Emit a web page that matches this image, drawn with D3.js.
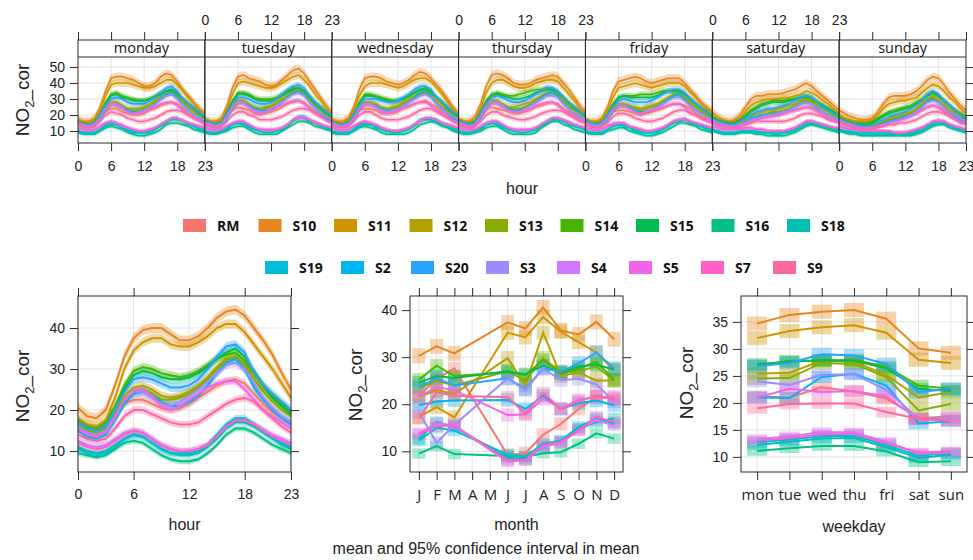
<!DOCTYPE html>
<html>
<head>
<meta charset="utf-8">
<script src="https://cdn.jsdelivr.net/npm/d3@7"></script>
<style>
  body { margin: 0; background: #fff; }
  svg { display: block; }
</style>
</head>
<body>
<svg id="chart" width="973" height="560"></svg>
<script>
// ---- categories -------------------------------------------------------
const sites = ["RM","S10","S11","S12","S13","S14","S15","S16","S18","S19","S2","S20","S3","S4","S5","S7","S9"];
const dayNames = ["monday","tuesday","wednesday","thursday","friday","saturday","sunday"];
const hourTicks = [0, 6, 12, 18, 23];
const monthLabels = ["J","F","M","A","M","J","J","A","S","O","N","D"];
const weekdayLabels = ["mon","tue","wed","thu","fri","sat","sun"];
const topYTicks = [10, 20, 30, 40, 50];
const hourYTicks = [10, 20, 30, 40];
const monthYTicks = [10, 20, 30, 40];
const weekYTicks = [10, 15, 20, 25, 30, 35];

// ---- hour of day by weekday (one array per site, rows mon..sun) -------
const dayHourRM = [
  [15,14,13,14,18,22,24,24,22,21,20,20,21,23,24,26,27,28,27,24,21,19,18,16],
  [15,14,13,14,18,23,25,24,23,21,20,21,22,23,25,27,28,29,28,25,22,20,18,16],
  [15,14,13,14,18,23,24,24,23,21,21,21,22,24,25,27,28,29,27,25,22,20,18,16],
  [15,14,13,14,18,23,25,24,23,22,21,21,22,23,25,26,27,28,27,24,22,20,18,17],
  [15,14,13,14,18,22,23,23,22,21,20,21,22,23,24,26,27,27,26,24,21,19,18,17],
  [17,15,14,14,14,15,16,17,18,19,19,20,20,21,22,23,24,25,25,23,21,19,18,17],
  [17,16,15,14,13,13,13,14,15,16,17,18,19,20,21,23,25,26,25,23,21,19,17,16]];
const dayHourS10 = [
  [17,16,16,18,25,35,43,44,44,43,42,40,38,38,40,44,46,45,41,36,32,28,24,21],
  [17,16,16,18,26,37,44,45,43,42,41,39,38,39,42,45,48,49,46,41,36,31,26,22],
  [17,16,16,18,25,36,43,44,44,43,41,40,39,40,42,45,47,46,43,39,35,30,25,21],
  [17,16,16,19,27,38,45,46,45,43,40,39,39,40,42,43,44,45,44,40,36,31,26,22],
  [17,16,16,18,25,35,41,42,43,44,43,41,40,41,42,43,43,43,40,36,32,28,25,22],
  [22,19,17,16,17,20,25,30,32,32,33,33,33,34,35,36,38,40,38,35,32,29,26,23],
  [23,21,19,18,17,17,18,22,27,31,32,32,32,33,35,38,42,44,43,39,34,30,26,23]];
const dayHourS11 = [
  [17,15,15,17,23,32,39,40,40,40,39,38,37,37,38,40,42,42,39,35,31,27,23,20],
  [17,15,15,17,24,33,40,41,40,39,38,37,37,38,40,42,44,45,42,38,33,29,24,20],
  [16,15,15,17,23,32,38,40,40,40,39,38,37,38,40,42,43,43,41,37,33,28,24,20],
  [16,15,15,17,24,34,40,42,42,40,38,37,37,38,40,41,42,42,41,37,33,29,24,21],
  [16,15,15,17,23,31,37,38,39,40,39,38,37,38,39,40,40,40,38,34,31,27,24,21],
  [19,17,16,15,16,18,22,26,28,29,30,30,30,31,31,32,33,35,34,32,29,27,24,21],
  [20,18,17,16,16,16,17,20,24,27,28,29,29,30,31,34,37,39,38,35,31,28,24,21]];
const dayHourS12 = [
  [16,14,14,15,19,25,28,28,26,24,24,24,25,27,29,31,33,34,32,29,26,23,21,18],
  [16,15,14,15,20,26,29,29,27,25,24,25,26,28,30,32,35,36,34,30,27,24,21,19],
  [16,14,14,15,19,25,28,28,27,25,24,25,26,28,30,32,34,35,33,30,27,24,21,19],
  [16,15,14,15,20,26,29,29,27,25,25,26,27,28,30,32,34,34,33,29,26,24,21,19],
  [16,15,14,15,19,24,27,27,26,25,24,25,26,27,29,31,33,33,31,28,26,23,21,19],
  [18,16,15,14,15,16,17,19,21,22,23,23,24,25,26,27,29,30,29,27,25,23,21,19],
  [18,16,15,14,13,13,14,15,16,18,19,20,21,22,24,27,30,32,31,28,25,22,20,18]];
const dayHourS13 = [
  [16,14,13,15,18,24,27,27,25,23,23,23,24,26,28,31,33,34,31,28,25,22,20,18],
  [16,14,14,15,19,25,28,28,26,24,23,24,25,27,29,32,34,35,33,29,26,23,20,18],
  [16,14,13,15,19,24,27,27,26,24,23,24,25,27,29,31,33,34,32,28,25,23,20,18],
  [16,14,14,15,19,25,28,28,26,24,24,24,25,27,29,31,33,34,32,28,25,23,21,19],
  [16,14,13,15,18,23,26,26,25,24,23,24,25,26,28,30,32,33,30,27,25,22,20,18],
  [17,15,14,14,14,15,16,18,19,20,21,22,22,23,24,26,28,29,28,26,24,22,20,18],
  [17,15,14,13,12,12,13,14,15,17,18,19,20,21,23,26,29,31,29,26,23,21,19,17]];
const dayHourS14 = [
  [16,15,14,16,21,28,33,34,32,31,30,29,29,30,32,34,35,35,33,30,27,24,21,19],
  [17,15,15,16,22,29,34,34,33,31,30,30,30,31,33,35,37,37,35,32,28,25,22,19],
  [16,15,14,16,21,28,33,33,32,31,30,29,29,30,32,34,36,36,34,31,28,25,22,19],
  [17,15,15,16,22,29,33,34,33,32,32,33,34,35,36,36,37,36,34,31,28,25,22,20],
  [17,15,15,16,21,27,31,32,32,32,33,33,33,34,35,35,35,35,33,30,27,24,22,20],
  [19,17,16,15,15,17,20,23,25,27,28,29,29,29,30,30,31,31,30,28,26,24,22,20],
  [19,17,16,15,15,15,16,18,20,22,23,24,25,26,28,30,33,34,32,29,26,23,21,19]];
const dayHourS15 = [
  [16,14,14,15,20,27,32,33,31,30,29,29,29,30,31,33,35,36,34,30,27,24,21,18],
  [16,15,14,15,21,28,33,33,32,30,29,29,29,30,32,34,36,37,35,31,27,24,21,19],
  [16,14,14,15,20,27,32,32,31,30,29,28,29,30,32,34,36,37,35,31,28,24,21,19],
  [16,15,14,16,21,28,32,33,32,31,30,30,31,32,34,35,36,36,34,31,27,24,22,19],
  [16,15,14,15,20,26,31,32,31,31,31,31,31,32,34,35,35,35,33,30,27,24,22,19],
  [18,16,15,15,15,17,19,22,24,26,27,28,28,28,29,30,31,32,31,28,26,24,22,19],
  [18,16,15,14,14,14,15,17,19,21,22,23,24,25,27,29,32,34,32,29,26,23,20,18]];
const dayHourS16 = [
  [9,8,8,8,10,12,13,12,11,9,8,7,7,8,9,11,14,15,15,14,13,11,10,9],
  [9,8,8,9,10,12,13,13,11,9,8,8,8,8,10,12,14,16,16,15,13,12,11,10],
  [9,8,8,8,10,12,13,12,11,9,8,8,8,8,9,11,14,15,16,15,13,12,10,9],
  [9,8,8,9,10,12,13,13,11,9,8,8,8,8,9,12,14,16,16,14,13,11,10,9],
  [9,8,8,8,10,11,12,12,10,9,8,7,7,8,9,11,13,15,15,14,13,11,10,9],
  [10,9,8,8,8,9,9,9,8,8,7,7,7,7,8,9,11,13,14,13,12,11,10,9],
  [10,9,8,8,7,7,7,7,7,7,7,7,7,7,8,9,11,13,14,14,12,11,10,9]];
const dayHourS18 = [
  [10,9,9,9,11,13,14,14,12,10,9,9,9,9,11,13,15,17,17,16,14,13,11,10],
  [10,9,9,10,11,14,15,14,12,11,10,9,9,10,11,13,16,18,18,16,15,13,12,11],
  [10,9,9,9,11,13,14,14,12,11,10,9,9,10,11,13,16,17,17,16,14,13,11,10],
  [10,9,9,10,11,14,15,14,12,11,10,9,9,10,11,13,15,17,17,16,14,13,12,11],
  [10,9,9,9,11,13,14,13,12,10,9,9,9,9,11,13,15,16,17,15,14,13,11,10],
  [11,10,9,9,9,9,10,10,9,9,9,8,8,9,9,10,12,14,15,14,13,12,11,10],
  [11,10,9,9,8,8,8,8,8,8,8,8,8,8,9,10,12,14,15,15,13,12,11,10]];
const dayHourS19 = [
  [10,9,9,9,11,14,15,14,12,11,10,9,9,10,11,14,16,18,18,16,15,13,12,11],
  [10,9,9,10,12,14,15,15,13,11,10,10,10,10,12,14,17,19,19,17,15,14,12,11],
  [10,9,9,9,11,14,15,14,13,11,10,10,10,10,12,14,17,18,18,17,15,14,12,11],
  [10,9,9,10,12,14,15,15,13,11,10,10,10,10,11,14,16,18,18,16,15,13,12,11],
  [10,9,9,9,11,13,14,14,12,11,10,9,9,10,11,13,16,17,17,16,14,13,12,11],
  [11,10,9,9,9,10,10,10,10,9,9,9,9,9,10,11,13,15,16,15,14,13,12,11],
  [11,10,10,9,9,9,9,9,9,9,8,8,8,9,10,11,13,15,16,15,14,12,11,10]];
const dayHourS2 = [
  [14,13,12,13,17,23,27,27,25,23,22,22,23,24,27,30,33,34,31,26,23,20,18,16],
  [14,13,12,13,18,24,28,28,26,24,23,23,23,25,28,31,34,35,33,28,24,21,18,16],
  [14,13,12,13,17,23,27,27,26,24,23,23,24,26,28,31,34,35,32,27,24,21,18,16],
  [14,13,12,14,18,24,28,28,26,24,23,23,24,26,28,31,33,34,32,27,24,21,19,17],
  [14,13,12,13,17,22,26,26,25,23,22,22,23,25,27,30,32,33,30,26,23,21,19,17],
  [16,14,13,13,13,14,16,18,19,20,20,21,21,22,23,25,27,28,27,24,22,20,18,16],
  [16,14,13,12,12,12,12,13,15,16,17,18,19,20,22,25,29,30,28,25,22,19,17,15]];
const dayHourS20 = [
  [16,14,14,15,20,26,30,31,30,28,27,27,27,29,31,34,37,38,35,30,27,24,22,19],
  [16,15,14,15,21,27,31,31,30,28,27,27,28,30,33,36,38,39,37,32,28,25,22,20],
  [16,14,14,15,20,26,30,30,30,29,28,28,29,31,33,36,38,38,36,31,28,25,22,20],
  [16,15,14,15,21,27,31,32,31,29,28,28,29,31,33,35,37,37,35,31,27,25,22,20],
  [16,15,14,15,20,25,29,30,29,28,28,28,29,31,33,35,36,36,34,30,27,24,22,20],
  [18,16,15,14,14,16,18,20,22,23,24,24,25,26,27,29,31,32,31,28,25,23,21,19],
  [18,16,15,14,13,13,14,15,17,19,20,21,22,24,26,29,33,35,33,29,26,23,20,18]];
const dayHourS3 = [
  [15,14,13,14,18,24,27,26,24,22,21,22,23,25,27,30,32,33,30,26,23,20,18,17],
  [15,14,13,14,19,25,28,27,25,23,22,22,24,26,28,31,33,34,32,28,24,21,19,17],
  [15,14,13,14,18,24,27,27,25,23,22,23,24,26,28,30,32,33,31,27,24,21,19,17],
  [15,14,13,14,19,25,28,27,25,23,22,22,24,26,28,30,32,32,31,27,24,21,19,17],
  [15,14,13,14,18,23,26,26,24,22,21,22,23,25,27,29,31,31,29,26,23,21,19,17],
  [17,15,14,13,13,14,15,17,18,19,20,20,21,22,23,25,27,28,27,25,22,20,18,17],
  [17,15,14,13,12,12,12,13,14,15,16,17,18,20,22,25,28,29,28,25,22,20,18,16]];
const dayHourS4 = [
  [12,11,10,11,13,15,16,15,13,12,11,10,10,11,12,14,16,18,18,17,15,14,13,12],
  [12,11,11,11,13,15,16,16,14,12,11,10,10,11,12,14,17,19,19,17,16,14,13,12],
  [12,11,10,11,13,15,16,15,14,12,11,10,10,11,12,14,17,18,18,17,15,14,13,12],
  [12,11,11,11,13,15,16,16,14,12,11,10,10,11,12,14,16,18,18,17,16,14,13,12],
  [12,11,10,11,13,15,15,15,13,12,11,10,10,11,12,14,16,17,18,16,15,14,13,12],
  [13,12,11,11,11,12,12,12,11,11,10,10,10,10,11,12,14,16,16,15,14,13,12,12],
  [13,12,11,11,10,10,10,10,10,10,9,9,9,10,11,12,14,16,17,16,14,13,12,11]];
const dayHourS5 = [
  [15,13,13,14,18,24,27,27,25,22,21,21,22,24,25,27,28,28,26,23,20,18,17,15],
  [15,14,13,14,19,25,28,28,25,22,21,22,23,25,26,28,29,29,27,24,21,19,17,15],
  [15,13,13,14,18,24,27,27,25,22,21,22,23,25,26,27,28,28,26,23,21,19,17,15],
  [15,14,13,14,19,25,28,28,26,23,22,22,23,24,26,27,28,28,26,23,21,19,17,16],
  [15,13,13,14,18,23,26,26,24,22,21,22,23,24,25,26,27,27,25,22,20,18,17,16],
  [16,14,13,13,13,14,15,16,17,18,19,19,20,21,22,23,24,25,24,22,20,18,17,16],
  [16,15,14,13,12,12,12,13,14,15,16,17,18,19,21,23,25,26,25,22,20,18,16,15]];
const dayHourS7 = [
  [12,11,10,11,13,15,16,15,14,12,11,10,10,11,12,14,16,18,18,16,15,14,13,12],
  [12,11,10,11,13,15,16,16,14,12,11,11,11,11,12,14,17,18,18,17,15,14,13,12],
  [12,11,10,11,13,15,16,15,14,12,11,10,10,11,12,14,16,18,18,17,15,14,13,12],
  [12,11,11,11,13,15,16,16,14,12,11,11,11,11,12,14,16,18,18,17,15,14,13,12],
  [12,11,10,11,13,14,15,15,13,12,11,10,10,11,12,14,16,17,17,16,15,14,13,12],
  [13,12,11,11,11,11,12,12,11,11,10,10,10,10,11,12,14,16,16,15,14,13,12,12],
  [13,12,11,11,10,10,10,10,10,10,9,9,9,10,11,12,14,16,16,16,14,13,12,11]];
const dayHourS9 = [
  [14,13,12,13,16,20,22,21,20,18,17,16,16,17,18,20,22,23,23,22,20,18,16,14],
  [14,13,12,13,16,20,22,22,20,19,17,17,17,18,19,21,23,24,24,23,21,19,17,15],
  [14,13,12,13,16,20,22,22,20,18,17,17,17,18,19,21,23,24,24,22,20,18,16,14],
  [14,13,12,13,16,20,22,22,20,19,18,17,17,18,19,21,22,23,23,22,20,18,16,15],
  [14,13,12,13,15,19,21,21,20,18,17,16,16,17,18,20,22,23,23,21,20,18,16,15],
  [15,14,13,12,12,13,14,15,16,16,16,16,16,16,17,18,20,21,21,20,19,17,16,15],
  [15,14,13,12,11,11,11,12,13,14,14,15,15,16,17,19,21,22,22,21,19,17,15,14]];
const dayHour = [dayHourRM, dayHourS10, dayHourS11, dayHourS12, dayHourS13, dayHourS14,
  dayHourS15, dayHourS16, dayHourS18, dayHourS19, dayHourS2, dayHourS20, dayHourS3,
  dayHourS4, dayHourS5, dayHourS7, dayHourS9];

// ---- hour of day, all days (site order) -------------------------------
const hourMeans = [
  [16,14.5,14,15,18,21.5,22.5,22.5,21.5,20.5,20,20.5,21.5,23,24.5,26,27,27.5,26.5,24,21.5,19.5,18,16.5],
  [20.5,18.5,18,20,26,33,37.5,39.5,40,40,38.5,37,37,38,40,42.5,44,44.5,43,40,37,33.5,29,25],
  [18,16.5,16,17.5,23,30,34.5,36.5,37.5,37.5,36,35.5,35.5,36.5,38,40,41,41,39,36,33,30,26.5,23],
  [17,15.5,15,16,19.5,23.5,25.5,26,25,23.5,23,23.5,24.5,26,28,30.5,32.5,33,31.5,28.5,25.5,23,21,19],
  [16.5,15,14.5,15.5,19,22.5,24.5,25,24,22.5,22.5,23,24,25.5,27.5,30,32,33,31,27.5,24.5,22,20,18.5],
  [17.5,16,15.5,17,21,26,29.5,30.5,30,29,28.5,28,28.5,29.5,31,32.5,33.5,34,32,29,26,23.5,21.5,19.5],
  [17,15.5,15,16,20,25,28.5,29.5,29,28,27.5,27.5,28,29,30.5,32.5,34,35,33,29.5,26,23,21,19],
  [9.5,9,8.5,9,10.5,12,12.5,12,10.5,9,8,7.5,7.5,8,9.5,11.5,14,15.5,15.5,14.5,13,11.5,10.5,9.5],
  [11,10,9.5,10,11.5,13,14,13.5,12,10.5,9.5,9,9,9.5,11,13,15.5,17,17,16,14.5,13,11.5,10.5],
  [10.5,9.5,9,9.5,11,13,14,13.5,12,10.5,9.5,9.5,9.5,10,11.5,14,16.5,18,18,16.5,15,13.5,12,11],
  [15,13.5,13,14,17.5,21.5,24,24.5,23.5,22,21,21,22,23.5,26,29,31.5,32.5,30,25.5,22.5,20,18,16.5],
  [17,15.5,15,16,20,24.5,27.5,28,27.5,26.5,25.5,25.5,26,27.5,30,33,35.5,36,34,29,26,24,22,20],
  [16,14.5,14,15,18.5,22.5,24.5,24.5,23,21.5,21,22,23.5,25,27,29,31,31.5,30,26.5,23,20.5,18.5,17],
  [12.5,11.5,11,11.5,13,14.5,15,14.5,13,11.5,10.5,10,10,10.5,11.5,13.5,16,17.5,17.5,16.5,15,14,13,12],
  [15.5,14,13.5,14.5,18,22.5,24.5,25,23.5,21,20,21,22.5,24,25.5,26.5,27,27,25,22.5,20,18.5,17,15.5],
  [12,11,10.5,11,12.5,14,15,14.5,13,11.5,10.5,10,10,10.5,11.5,13.5,16,17.5,17.5,16.5,15,13.5,12.5,11.5],
  [14,13,12.5,13,15.5,18.5,20,20,19,18,17,16.5,16.5,17,18.5,20,21.5,22.5,23,22,20,18,16,14.5]];

// ---- monthly means (April and May have no data) -----------------------
const monthMeans = [
  [21.8,25.4,27.6,null,null,9.2,9.6,13.5,15.8,19.0,21.5,21.3],
  [30.3,32.3,30.8,null,null,37.4,36.1,40.6,35.7,34.8,37.5,33.8],
  [17.3,19.4,17.2,null,null,35.2,34.2,38.5,35.4,33.2,31.0,27.2],
  [21.5,23.0,22.2,null,null,29.8,24.0,35.2,26.0,26.8,25.0,25.1],
  [23.4,25.0,24.0,null,null,27.0,25.0,29.8,26.8,27.0,28.0,25.0],
  [25.2,28.2,26.0,null,null,26.8,26.2,29.4,26.5,27.6,29.0,25.2],
  [24.6,26.0,25.6,null,null,27.0,26.4,28.2,26.8,28.0,28.4,27.4],
  [9.5,11.1,9.4,null,null,9.0,8.8,9.6,9.8,11.6,13.8,12.7],
  [12.6,16.2,15.2,null,null,8.6,8.4,10.9,12.0,14.8,16.2,17.0],
  [12.3,15.0,14.4,null,null,9.3,8.9,11.6,12.3,15.2,17.0,15.9],
  [19.8,20.6,20.8,null,null,20.9,19.0,21.8,19.0,20.2,20.8,19.8],
  [23.7,25.5,24.0,null,null,25.5,23.3,27.6,26.9,28.7,31.0,27.6],
  [18.3,11.8,15.6,null,null,25.5,23.0,27.6,25.1,25.4,24.2,20.6],
  [13.8,16.0,15.4,null,null,7.8,8.1,11.0,11.8,14.5,16.6,15.5],
  [21.6,23.6,23.0,null,null,17.7,17.8,21.2,19.1,20.9,21.6,21.6],
  [13.6,15.3,15.5,null,null,8.1,8.2,11.3,12.0,14.4,17.3,16.2],
  [17.0,22.5,21.8,null,null,21.5,18.0,22.4,19.0,20.6,21.8,21.0]];

// ---- weekday means ----------------------------------------------------
const weekdayMeans = [
  [21.2,21.0,22.9,22.1,20.8,17.2,17.5],
  [34.7,36.3,36.9,37.2,35.6,30.1,29.3],
  [32.0,33.3,34.0,34.4,33.0,28.0,27.4],
  [25.4,25.6,27.8,27.6,25.2,21.0,22.0],
  [24.5,24.6,27.4,27.2,24.8,18.6,19.8],
  [26.9,27.8,27.8,28.0,26.7,23.2,22.6],
  [27.2,27.6,27.9,27.8,26.4,22.6,22.2],
  [11.1,11.6,12.0,12.0,11.0,9.0,9.2],
  [12.2,12.8,13.4,13.5,11.8,9.8,10.4],
  [12.7,13.2,13.8,13.9,12.2,10.2,10.7],
  [21.0,20.9,24.8,25.4,23.2,16.2,16.6],
  [26.8,27.4,29.0,28.8,27.2,22.0,22.6],
  [24.0,23.3,25.2,25.3,22.4,17.0,17.2],
  [13.3,13.8,14.6,14.5,12.8,10.6,10.8],
  [21.0,22.6,22.0,22.2,21.2,17.0,16.8],
  [13.0,13.5,14.2,14.3,12.5,10.8,11.0],
  [19.0,19.8,19.9,19.9,18.3,17.0,16.7]];

// ---- 95% confidence half-widths per site ------------------------------
const ciDayHour = [1.6,2.6,2.4,2.0,2.0,1.8,1.8,1.2,1.2,1.3,1.7,1.9,1.7,1.3,1.6,1.3,1.6];
const ciHour    = [0.9,1.2,1.1,1.0,1.0,1.0,1.0,0.7,0.7,0.8,1.0,1.1,1.0,0.8,0.9,0.8,0.9];
const ciMonth   = [1.4,1.6,1.5,1.5,1.5,1.4,1.4,1.1,1.2,1.2,1.4,1.5,1.4,1.2,1.4,1.2,1.3];
const ciWeek    = [1.1,1.3,1.3,1.2,1.2,1.1,1.1,0.9,0.9,1.0,1.1,1.2,1.1,0.9,1.1,0.9,1.0];

// ---- colours: R-style polar LUV hues (c = 100, l = 65) ----------------
function hclColor(h, c, l) {
  const rad = h * Math.PI / 180;
  const U = c * Math.cos(rad), V = c * Math.sin(rad);
  const Xn = 95.047, Yn = 100, Zn = 108.883;
  const d = Xn + 15 * Yn + 3 * Zn;
  const un = 4 * Xn / d, vn = 9 * Yn / d;
  const Y = Yn * Math.pow((l + 16) / 116, 3);
  const up = U / (13 * l) + un, vp = V / (13 * l) + vn;
  const X = Y * 9 * up / (4 * vp);
  const Z = Y * (12 - 3 * up - 20 * vp) / (4 * vp);
  const lin = [
    ( 3.240479 * X - 1.537150 * Y - 0.498535 * Z) / 100,
    (-0.969256 * X + 1.875992 * Y + 0.041556 * Z) / 100,
    ( 0.055648 * X - 0.204043 * Y + 1.057311 * Z) / 100];
  const [r, g, b] = lin.map(v => {
    v = Math.max(0, Math.min(1, v));
    const s = v <= 0.0031308 ? 12.92 * v : 1.055 * Math.pow(v, 1 / 2.4) - 0.055;
    return Math.round(255 * s);
  });
  return d3.rgb(r, g, b).formatHex();
}
const colour = d3.scaleOrdinal()
  .domain(sites)
  .range(sites.map((s, i) => hclColor(15 + i * 360 / sites.length, 100, 65)));

// ---- drawing helpers --------------------------------------------------
const svg = d3.select("#chart");
const NUM_FONT = "'Liberation Sans', Arial, sans-serif";
const LABEL_FONT = "'Open Sans', 'Noto Sans', sans-serif";
const GRID = "#e4e4e4";
const FRAME = "#2b2b2b";

function styleAxis(g, font, size) {
  g.select(".domain").remove();
  g.selectAll(".tick line").attr("stroke", FRAME).attr("stroke-width", 1);
  g.selectAll(".tick text").attr("font-family", font || NUM_FONT)
    .attr("font-size", size || 14).attr("fill", "#222");
}

function yTitle(x, y) {
  const t = svg.append("text")
    .attr("transform", `translate(${x},${y}) rotate(-90)`)
    .attr("text-anchor", "middle")
    .attr("font-family", NUM_FONT).attr("font-size", 19).attr("fill", "#222");
  t.append("tspan").text("NO");
  t.append("tspan").attr("dy", 5).attr("font-size", 13).text("2");
  t.append("tspan").attr("dy", -5).text("_cor");
}

function xTitle(x, y, label) {
  svg.append("text").attr("x", x).attr("y", y).attr("text-anchor", "middle")
    .attr("font-family", NUM_FONT).attr("font-size", 16).attr("fill", "#222").text(label);
}

// ---- top: hour of day for each weekday --------------------------------
const topLeft = 78, topRight = 966, stripTop = 40, plotTop = 57, plotBottom = 143;
const pw = (topRight - topLeft) / 7;
const yTop = d3.scaleLinear().domain([2.5, 56.3]).range([plotBottom, plotTop]);

dayNames.forEach((day, di) => {
  const x = d3.scaleLinear().domain([0, 23]).range([topLeft + di * pw, topLeft + (di + 1) * pw]);
  const g = svg.append("g");
  // grid
  g.selectAll(".gx").data([6, 12, 18]).join("line")
    .attr("x1", d => x(d)).attr("x2", d => x(d)).attr("y1", plotTop).attr("y2", plotBottom)
    .attr("stroke", GRID);
  g.selectAll(".gy").data(topYTicks).join("line")
    .attr("x1", x(0)).attr("x2", x(23)).attr("y1", d => yTop(d)).attr("y2", d => yTop(d))
    .attr("stroke", GRID);

  const area = d3.area().x((d, h) => x(h))
    .y0(d => yTop(d.v - d.ci)).y1(d => yTop(d.v + d.ci));
  const line = d3.line().x((d, h) => x(h)).y(d => yTop(d.v));
  const rows = sites.map((s, si) => dayHour[si][di].map(v => ({ v, ci: ciDayHour[si] })));
  g.selectAll(".band").data(rows).join("path")
    .attr("d", area).attr("fill", (d, si) => colour(sites[si])).attr("fill-opacity", 0.32);
  g.selectAll(".ln").data(rows).join("path")
    .attr("d", line).attr("fill", "none").attr("stroke", (d, si) => colour(sites[si]))
    .attr("stroke-width", 1.6);

  // frame and strip
  g.append("rect").attr("x", x(0)).attr("y", stripTop).attr("width", pw)
    .attr("height", plotBottom - stripTop).attr("fill", "none").attr("stroke", FRAME);
  g.append("line").attr("x1", x(0)).attr("x2", x(23)).attr("y1", plotTop).attr("y2", plotTop)
    .attr("stroke", FRAME);
  g.append("text").attr("x", x(11.5)).attr("y", 53).attr("text-anchor", "middle")
    .attr("font-family", LABEL_FONT).attr("font-size", 14.5).attr("fill", "#111").text(day);

  // alternating hour labels above and below
  const labelsTop = di % 2 === 1;
  const ax1 = g.append("g").attr("transform", `translate(0,${stripTop})`)
    .call(d3.axisTop(x).tickValues(hourTicks).tickSize(8).tickPadding(7)
      .tickFormat(labelsTop ? d3.format("d") : () => ""));
  styleAxis(ax1);
  const ax2 = g.append("g").attr("transform", `translate(0,${plotBottom})`)
    .call(d3.axisBottom(x).tickValues(hourTicks).tickSize(8).tickPadding(10)
      .tickFormat(labelsTop ? () => "" : d3.format("d")));
  styleAxis(ax2);
});
const topLeftAxis = svg.append("g").attr("transform", `translate(${topLeft},0)`)
  .call(d3.axisLeft(yTop).tickValues(topYTicks).tickSize(8).tickPadding(5));
styleAxis(topLeftAxis);
const topRightAxis = svg.append("g").attr("transform", `translate(${topRight},0)`)
  .call(d3.axisRight(yTop).tickValues(topYTicks).tickSize(8).tickFormat(() => ""));
styleAxis(topRightAxis);
yTitle(29, 100);
xTitle(522, 194, "hour");

// ---- legend -----------------------------------------------------------
const legendRows = [
  { items: sites.slice(0, 9), xs: [183, 258.5, 334, 409.5, 485, 560.5, 636, 711.5, 787], y: 219 },
  { items: sites.slice(9), xs: [265, 341, 411, 486, 557, 629, 701, 773], y: 261 }];
legendRows.forEach(row => {
  row.items.forEach((s, i) => {
    svg.append("rect").attr("x", row.xs[i]).attr("y", row.y).attr("width", 23).attr("height", 13)
      .attr("fill", colour(s));
    svg.append("text").attr("x", row.xs[i] + 34).attr("y", row.y + 12)
      .attr("font-family", LABEL_FONT).attr("font-weight", 700).attr("font-size", 14)
      .attr("fill", "#111").text(s);
  });
});

// ---- bottom panels ----------------------------------------------------
const bTop = 296, bBottom = 472;

function framePanel(x0, x1) {
  svg.append("rect").attr("x", x0).attr("y", bTop).attr("width", x1 - x0)
    .attr("height", bBottom - bTop).attr("fill", "none").attr("stroke", FRAME);
}
function gridPanel(xs, ys, x0, x1) {
  const g = svg.append("g");
  g.selectAll(".gx").data(xs).join("line").attr("x1", d => d).attr("x2", d => d)
    .attr("y1", bTop).attr("y2", bBottom).attr("stroke", GRID);
  g.selectAll(".gy").data(ys).join("line").attr("x1", x0).attr("x2", x1)
    .attr("y1", d => d).attr("y2", d => d).attr("stroke", GRID);
}
function panelAxes(x, y, x0, x1, xTicks, yTicks, xFormat, xFont, xSize) {
  const b = svg.append("g").attr("transform", `translate(0,${bBottom})`)
    .call(d3.axisBottom(x).tickValues(xTicks).tickSize(8).tickPadding(9).tickFormat(xFormat));
  styleAxis(b, xFont, xSize);
  const t = svg.append("g").attr("transform", `translate(0,${bTop})`)
    .call(d3.axisTop(x).tickValues(xTicks).tickSize(8).tickFormat(() => ""));
  styleAxis(t);
  const l = svg.append("g").attr("transform", `translate(${x0},0)`)
    .call(d3.axisLeft(y).tickValues(yTicks).tickSize(8).tickPadding(5));
  styleAxis(l);
  const r = svg.append("g").attr("transform", `translate(${x1},0)`)
    .call(d3.axisRight(y).tickValues(yTicks).tickSize(8).tickFormat(() => ""));
  styleAxis(r);
}

// hour of day, all days
{
  const x0 = 78, x1 = 291;
  const x = d3.scaleLinear().domain([0, 23]).range([x0, x1]);
  const y = d3.scaleLinear().domain([4.9, 47.8]).range([bBottom, bTop]);
  gridPanel(hourTicks.map(x), hourYTicks.map(y), x0, x1);
  const rows = hourMeans.map((r, si) => r.map(v => ({ v, ci: ciHour[si] })));
  const area = d3.area().x((d, h) => x(h)).y0(d => y(d.v - d.ci)).y1(d => y(d.v + d.ci));
  const line = d3.line().x((d, h) => x(h)).y(d => y(d.v));
  svg.append("g").selectAll("path").data(rows).join("path").attr("d", area)
    .attr("fill", (d, si) => colour(sites[si])).attr("fill-opacity", 0.35);
  svg.append("g").selectAll("path").data(rows).join("path").attr("d", line)
    .attr("fill", "none").attr("stroke", (d, si) => colour(sites[si])).attr("stroke-width", 2);
  framePanel(x0, x1);
  panelAxes(x, y, x0, x1, hourTicks, hourYTicks, d3.format("d"));
  yTitle(29, 386);
  xTitle((x0 + x1) / 2, 530, "hour");
}

// month of year
{
  const x0 = 410, x1 = 623;
  const idx = d3.range(monthLabels.length);
  const x = d3.scalePoint().domain(idx).range([x0, x1]).padding(0.5);
  const y = d3.scaleLinear().domain([5.6, 43]).range([bBottom, bTop]);
  gridPanel(idx.map(x), monthYTicks.map(y), x0, x1);
  const rows = monthMeans.map((r, si) =>
    r.map((v, m) => ({ m, v, ci: ciMonth[si] })).filter(d => d.v !== null));
  const sq = svg.append("g");
  rows.forEach((r, si) => {
    sq.selectAll(null).data(r).join("rect")
      .attr("x", d => x(d.m) - 6.5).attr("width", 13)
      .attr("y", d => y(d.v + d.ci)).attr("height", d => y(d.v - d.ci) - y(d.v + d.ci))
      .attr("fill", colour(sites[si])).attr("fill-opacity", 0.35);
  });
  const line = d3.line().x(d => x(d.m)).y(d => y(d.v));
  svg.append("g").selectAll("path").data(rows).join("path").attr("d", line)
    .attr("fill", "none").attr("stroke", (d, si) => colour(sites[si])).attr("stroke-width", 2);
  framePanel(x0, x1);
  panelAxes(x, y, x0, x1, idx, monthYTicks, i => monthLabels[i], LABEL_FONT, 15);
  yTitle(362, 385);
  xTitle((x0 + x1) / 2, 530, "month");
}

// day of week
{
  const x0 = 741, x1 = 967;
  const idx = d3.range(weekdayLabels.length);
  const x = d3.scalePoint().domain(idx).range([x0, x1]).padding(0.5);
  const y = d3.scaleLinear().domain([7.2, 39.8]).range([bBottom, bTop]);
  gridPanel(idx.map(x), weekYTicks.map(y), x0, x1);
  const rows = weekdayMeans.map((r, si) => r.map((v, w) => ({ w, v, ci: ciWeek[si] })));
  const sq = svg.append("g");
  rows.forEach((r, si) => {
    sq.selectAll(null).data(r).join("rect")
      .attr("x", d => x(d.w) - 10).attr("width", 20)
      .attr("y", d => y(d.v + d.ci)).attr("height", d => y(d.v - d.ci) - y(d.v + d.ci))
      .attr("fill", colour(sites[si])).attr("fill-opacity", 0.38);
  });
  const line = d3.line().x(d => x(d.w)).y(d => y(d.v));
  svg.append("g").selectAll("path").data(rows).join("path").attr("d", line)
    .attr("fill", "none").attr("stroke", (d, si) => colour(sites[si])).attr("stroke-width", 2);
  framePanel(x0, x1);
  panelAxes(x, y, x0, x1, idx, weekYTicks, i => weekdayLabels[i], LABEL_FONT, 15);
  yTitle(693, 383);
  xTitle((x0 + x1) / 2, 532, "weekday");
}

// caption
svg.append("text").attr("x", 486).attr("y", 554).attr("text-anchor", "middle")
  .attr("font-family", NUM_FONT).attr("font-size", 16).attr("fill", "#222")
  .text("mean and 95% confidence interval in mean");
</script>
</body>
</html>
